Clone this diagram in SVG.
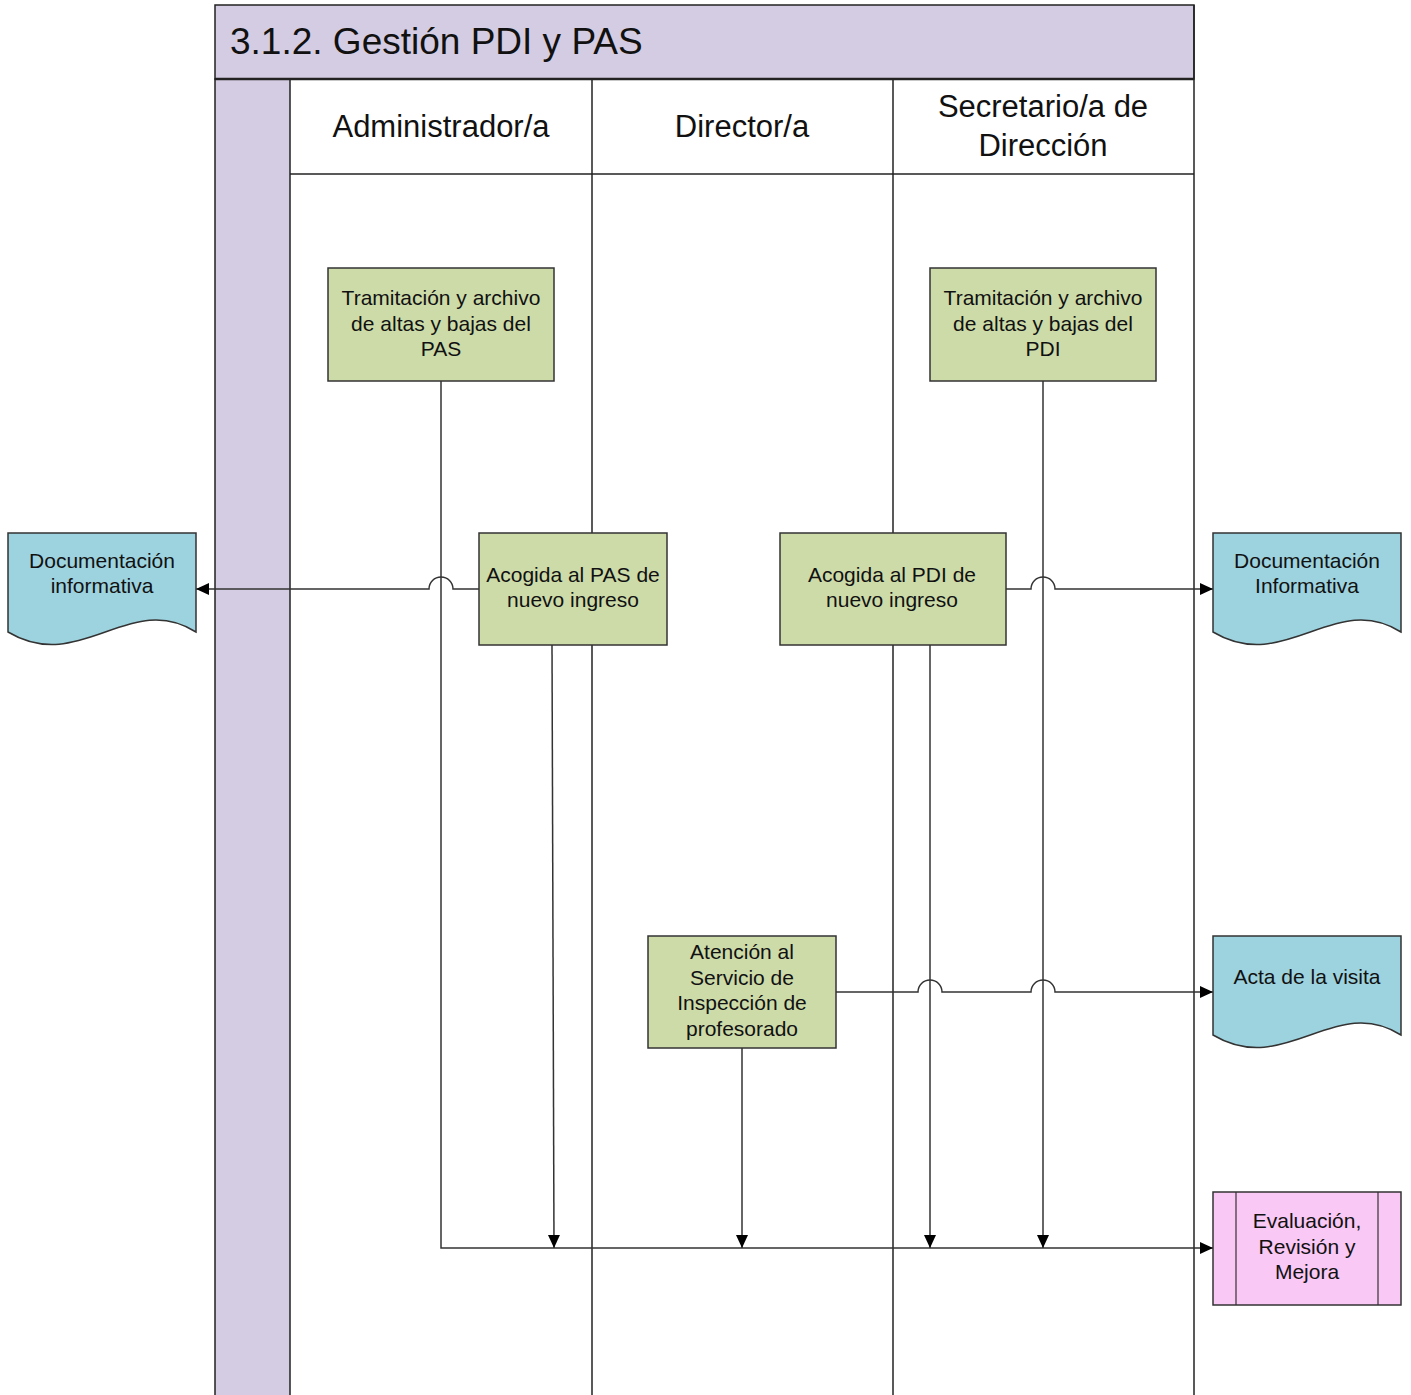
<svg xmlns="http://www.w3.org/2000/svg" width="1411" height="1395" viewBox="0 0 1411 1395">
<defs>
<marker id="arr" markerUnits="userSpaceOnUse" markerWidth="14" markerHeight="12" refX="13" refY="6" orient="auto">
<path d="M0,0 L13,6 L0,12 Z" fill="#000"/>
</marker>
<style>
.lane{stroke:#222;stroke-width:1.5;fill:none}
.band{fill:#d4cce2;stroke:#222;stroke-width:1.5}
.proc{fill:#cddba9;stroke:#333;stroke-width:1.5}
.doc{fill:#9dd3df;stroke:#333;stroke-width:1.5}
.eval{fill:#f9c8f5;stroke:#333;stroke-width:1.5}
.conn{stroke:#333;stroke-width:1.5;fill:none}
text{font-family:"Liberation Sans",Arial,sans-serif;fill:#111}
.t{font-size:21px;text-anchor:middle}
.h{font-size:31px;text-anchor:middle}
</style>
</defs>
<rect width="1411" height="1395" fill="#fff"/>
<g id="pool">
<rect class="band" x="215" y="5" width="979" height="74"/>
<rect class="band" x="215" y="79" width="75" height="1320"/>
<line class="lane" x1="1194" y1="5" x2="1194" y2="1395"/>
<line class="lane" x1="592" y1="80" x2="592" y2="1395"/>
<line class="lane" x1="893" y1="80" x2="893" y2="1395"/>
<line class="lane" x1="290" y1="174" x2="1194" y2="174"/>
<line x1="215" y1="79" x2="1194" y2="79" stroke="#222" stroke-width="2.5"/>
<text x="230" y="54" style="font-size:37px">3.1.2. Gestión PDI y PAS</text>
<text class="h" x="441" y="137">Administrador/a</text>
<text class="h" x="742" y="137">Director/a</text>
<text class="h" x="1043" y="117">Secretario/a de</text>
<text class="h" x="1043" y="156">Dirección</text>
</g>
<g id="connectors">
<path class="conn" d="M441,381 V1248 H1213" marker-end="url(#arr)"/>
<path class="conn" d="M479,589 H453 A12,12 0 0 0 429,589 H196" marker-end="url(#arr)"/>
<path class="conn" d="M552,645 L554,1248" marker-end="url(#arr)"/>
<path class="conn" d="M742,1048 V1248" marker-end="url(#arr)"/>
<path class="conn" d="M930,645 V1248" marker-end="url(#arr)"/>
<path class="conn" d="M1043,381 V1248" marker-end="url(#arr)"/>
<path class="conn" d="M1006,589 H1031 A12,12 0 0 1 1055,589 H1213" marker-end="url(#arr)"/>
<path class="conn" d="M836,992 H918 A12,12 0 0 1 942,992 H1031 A12,12 0 0 1 1055,992 H1213" marker-end="url(#arr)"/>
</g>
<g id="tram-pas">
<rect class="proc" x="328" y="268" width="226" height="113"/>
<text class="t" x="441" y="305">Tramitación y archivo</text>
<text class="t" x="441" y="331">de altas y bajas del</text>
<text class="t" x="441" y="356">PAS</text>
</g>
<g id="tram-pdi">
<rect class="proc" x="930" y="268" width="226" height="113"/>
<text class="t" x="1043" y="305">Tramitación y archivo</text>
<text class="t" x="1043" y="331">de altas y bajas del</text>
<text class="t" x="1043" y="356">PDI</text>
</g>
<g id="acogida-pas">
<rect class="proc" x="479" y="533" width="188" height="112"/>
<text class="t" x="573" y="582">Acogida al PAS de</text>
<text class="t" x="573" y="607">nuevo ingreso</text>
</g>
<g id="acogida-pdi">
<rect class="proc" x="780" y="533" width="226" height="112"/>
<text class="t" x="892" y="582">Acogida al PDI de</text>
<text class="t" x="892" y="607">nuevo ingreso</text>
</g>
<g id="atencion">
<rect class="proc" x="648" y="936" width="188" height="112"/>
<text class="t" x="742" y="959">Atención al</text>
<text class="t" x="742" y="985">Servicio de</text>
<text class="t" x="742" y="1010">Inspección de</text>
<text class="t" x="742" y="1036">profesorado</text>
</g>
<g id="doc-left">
<path class="doc" d="M8,533 H196 V632 C130,590 80,675 8,632 Z"/>
<text class="t" x="102" y="568">Documentación</text>
<text class="t" x="102" y="593">informativa</text>
</g>
<g id="doc-right">
<path class="doc" d="M1213,533 H1401 V632 C1335,590 1285,675 1213,632 Z"/>
<text class="t" x="1307" y="568">Documentación</text>
<text class="t" x="1307" y="593">Informativa</text>
</g>
<g id="acta">
<path class="doc" d="M1213,936 H1401 V1035 C1335,993 1285,1078 1213,1035 Z"/>
<text class="t" x="1307" y="984">Acta de la visita</text>
</g>
<g id="evaluacion">
<rect class="eval" x="1213" y="1192" width="188" height="113"/>
<line x1="1236" y1="1192" x2="1236" y2="1305" stroke="#333" stroke-width="1.2"/>
<line x1="1378" y1="1192" x2="1378" y2="1305" stroke="#333" stroke-width="1.2"/>
<text class="t" x="1307" y="1228">Evaluación,</text>
<text class="t" x="1307" y="1254">Revisión y</text>
<text class="t" x="1307" y="1279">Mejora</text>
</g>
</svg>
